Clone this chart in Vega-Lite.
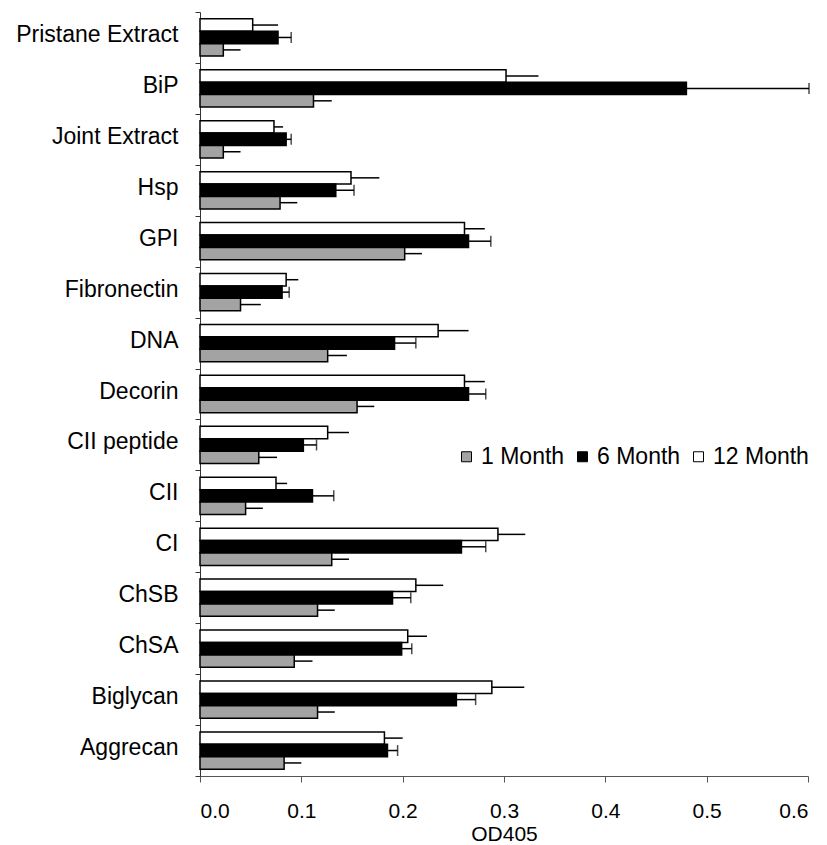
{
  "$schema": "https://vega.github.io/schema/vega-lite/v6.json",
  "autosize": {"type": "none"},
  "padding": {"left": 200, "right": 19, "top": 12, "bottom": 69},
  "width": 608,
  "height": 764,
  "background": "white",
  "config": {"view": {"stroke": null}, "font": "Liberation Sans"},
  "data": {
    "values": [
      {"antigen": "Pristane Extract", "period": "12 Month", "value": 0.052, "upper": 0.077},
      {"antigen": "Pristane Extract", "period": "6 Month", "value": 0.077, "upper": 0.090},
      {"antigen": "Pristane Extract", "period": "1 Month", "value": 0.023, "upper": 0.040},
      {"antigen": "BiP", "period": "12 Month", "value": 0.302, "upper": 0.334},
      {"antigen": "BiP", "period": "6 Month", "value": 0.480, "upper": 0.601},
      {"antigen": "BiP", "period": "1 Month", "value": 0.112, "upper": 0.130},
      {"antigen": "Joint Extract", "period": "12 Month", "value": 0.073, "upper": 0.082},
      {"antigen": "Joint Extract", "period": "6 Month", "value": 0.085, "upper": 0.090},
      {"antigen": "Joint Extract", "period": "1 Month", "value": 0.023, "upper": 0.040},
      {"antigen": "Hsp", "period": "12 Month", "value": 0.149, "upper": 0.177},
      {"antigen": "Hsp", "period": "6 Month", "value": 0.134, "upper": 0.152},
      {"antigen": "Hsp", "period": "1 Month", "value": 0.079, "upper": 0.096},
      {"antigen": "GPI", "period": "12 Month", "value": 0.261, "upper": 0.281},
      {"antigen": "GPI", "period": "6 Month", "value": 0.265, "upper": 0.287},
      {"antigen": "GPI", "period": "1 Month", "value": 0.202, "upper": 0.219},
      {"antigen": "Fibronectin", "period": "12 Month", "value": 0.085, "upper": 0.097},
      {"antigen": "Fibronectin", "period": "6 Month", "value": 0.081, "upper": 0.088},
      {"antigen": "Fibronectin", "period": "1 Month", "value": 0.040, "upper": 0.060},
      {"antigen": "DNA", "period": "12 Month", "value": 0.235, "upper": 0.265},
      {"antigen": "DNA", "period": "6 Month", "value": 0.192, "upper": 0.213},
      {"antigen": "DNA", "period": "1 Month", "value": 0.126, "upper": 0.145},
      {"antigen": "Decorin", "period": "12 Month", "value": 0.261, "upper": 0.281},
      {"antigen": "Decorin", "period": "6 Month", "value": 0.265, "upper": 0.282},
      {"antigen": "Decorin", "period": "1 Month", "value": 0.155, "upper": 0.172},
      {"antigen": "CII peptide", "period": "12 Month", "value": 0.126, "upper": 0.147},
      {"antigen": "CII peptide", "period": "6 Month", "value": 0.102, "upper": 0.115},
      {"antigen": "CII peptide", "period": "1 Month", "value": 0.058, "upper": 0.076},
      {"antigen": "CII", "period": "12 Month", "value": 0.075, "upper": 0.086},
      {"antigen": "CII", "period": "6 Month", "value": 0.111, "upper": 0.132},
      {"antigen": "CII", "period": "1 Month", "value": 0.045, "upper": 0.062},
      {"antigen": "CI", "period": "12 Month", "value": 0.294, "upper": 0.321},
      {"antigen": "CI", "period": "6 Month", "value": 0.258, "upper": 0.282},
      {"antigen": "CI", "period": "1 Month", "value": 0.130, "upper": 0.147},
      {"antigen": "ChSB", "period": "12 Month", "value": 0.213, "upper": 0.240},
      {"antigen": "ChSB", "period": "6 Month", "value": 0.190, "upper": 0.208},
      {"antigen": "ChSB", "period": "1 Month", "value": 0.116, "upper": 0.133},
      {"antigen": "ChSA", "period": "12 Month", "value": 0.205, "upper": 0.224},
      {"antigen": "ChSA", "period": "6 Month", "value": 0.199, "upper": 0.209},
      {"antigen": "ChSA", "period": "1 Month", "value": 0.093, "upper": 0.111},
      {"antigen": "Biglycan", "period": "12 Month", "value": 0.288, "upper": 0.320},
      {"antigen": "Biglycan", "period": "6 Month", "value": 0.253, "upper": 0.272},
      {"antigen": "Biglycan", "period": "1 Month", "value": 0.116, "upper": 0.133},
      {"antigen": "Aggrecan", "period": "12 Month", "value": 0.182, "upper": 0.200},
      {"antigen": "Aggrecan", "period": "6 Month", "value": 0.185, "upper": 0.195},
      {"antigen": "Aggrecan", "period": "1 Month", "value": 0.083, "upper": 0.100}
    ]
  },
  "encoding": {
    "y": {
      "field": "antigen",
      "type": "nominal",
      "sort": ["Pristane Extract", "BiP", "Joint Extract", "Hsp", "GPI", "Fibronectin", "DNA", "Decorin", "CII peptide", "CII", "CI", "ChSB", "ChSA", "Biglycan", "Aggrecan"],
      "scale": {"paddingInner": 0, "paddingOuter": 0},
      "axis": {
        "title": null,
        "tickBand": "extent",
        "tickSize": 5,
        "tickColor": "#333",
        "domainColor": "#333",
        "labelFont": "Liberation Sans",
        "labelFontSize": 23,
        "labelColor": "black",
        "labelPadding": 17,
        "labelOffset": -3
      }
    },
    "yOffset": {
      "field": "period",
      "type": "nominal",
      "sort": ["12 Month", "6 Month", "1 Month"],
      "scale": {"paddingInner": 0, "paddingOuter": 0.55}
    }
  },
  "layer": [
    {
      "mark": {"type": "bar", "stroke": "black", "strokeWidth": 1.5},
      "encoding": {
        "x": {
          "field": "value",
          "type": "quantitative",
          "scale": {"domain": [0, 0.6], "nice": false},
          "axis": {
            "title": "OD405",
            "values": [0, 0.1, 0.2, 0.3, 0.4, 0.5, 0.6],
            "format": ".1f",
            "grid": false,
            "tickSize": 6,
            "tickColor": "#555",
            "domainColor": "#555",
            "labelFont": "Liberation Sans",
            "labelFontSize": 21,
            "labelColor": "black",
            "labelPadding": 18,
            "titleFont": "Liberation Sans",
            "titleFontSize": 21,
            "titleFontWeight": "normal",
            "titleColor": "black",
            "titlePadding": 2
          }
        },
        "fill": {
          "field": "period",
          "type": "nominal",
          "scale": {"domain": ["1 Month", "6 Month", "12 Month"], "range": ["#a3a3a3", "#000000", "#ffffff"]},
          "legend": {
            "title": null,
            "orient": "none",
            "legendX": 255,
            "legendY": 433,
            "direction": "horizontal",
            "columns": 3,
            "columnPadding": 6,
            "padding": 0,
            "symbolType": "square",
            "symbolSize": 100,
            "symbolStrokeColor": "black",
            "symbolStrokeWidth": 1,
            "symbolOpacity": 1,
            "labelFont": "Liberation Sans",
            "labelFontSize": 23,
            "labelColor": "black",
            "labelOffset": 3,
            "labelLimit": 200
          }
        }
      }
    },
    {
      "mark": {"type": "rule", "color": "black", "strokeWidth": 1.5},
      "encoding": {
        "x": {"field": "value", "type": "quantitative"},
        "x2": {"field": "upper"}
      }
    },
    {
      "transform": [{"filter": "datum.period === '6 Month'"}],
      "mark": {"type": "tick", "color": "black", "orient": "vertical", "size": 11, "thickness": 1.5},
      "encoding": {
        "x": {"field": "upper", "type": "quantitative"}
      }
    }
  ]
}
